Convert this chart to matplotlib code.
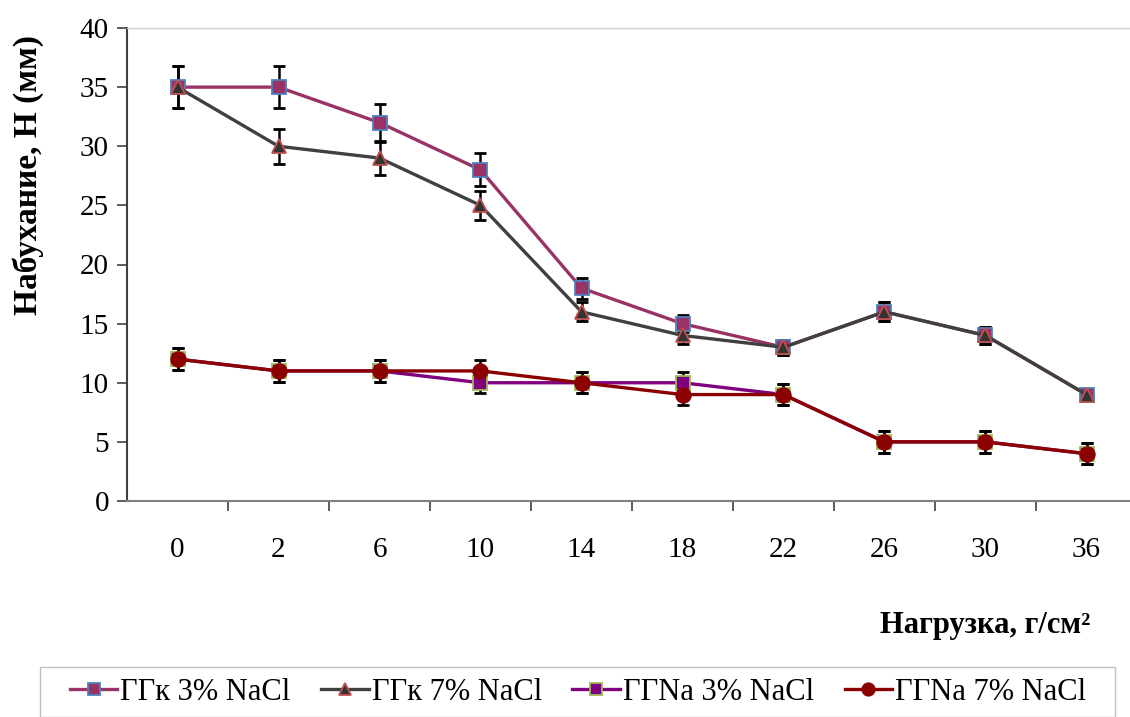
import matplotlib.pyplot as plt
from matplotlib.patches import Rectangle

plt.rcParams['font.family'] = ['Liberation Serif', 'DejaVu Serif']

loads = ['0', '2', '6', '10', '14', '18', '22', '26', '30', '36']

ggk_3 = [35, 35, 32, 28, 18, 15, 13, 16, 14, 9]
ggk_7 = [35, 30, 29, 25, 16, 14, 13, 16, 14, 9]
ggna_3 = [12, 11, 11, 10, 10, 10, 9, 5, 5, 4]
ggna_7 = [12, 11, 11, 11, 10, 9, 9, 5, 5, 4]

err_ggk_3 = [1.75, 1.75, 1.6, 1.4, 0.9, 0.75, 0.65, 0.8, 0.7, 0.45]
err_ggk_7 = [1.75, 1.5, 1.45, 1.25, 0.8, 0.7, 0.65, 0.8, 0.7, 0.45]
err_ggna_3 = [0.9, 0.9, 0.9, 0.9, 0.9, 0.9, 0.9, 0.9, 0.9, 0.9]
err_ggna_7 = [0.9, 0.9, 0.9, 0.9, 0.9, 0.9, 0.9, 0.9, 0.9, 0.9]

W, H = 1130, 717
fig = plt.figure(figsize=(W / 100, H / 100), dpi=100)
# plot area runs slightly past the right edge of the figure
ax = fig.add_axes([127 / W, 216 / H, 1010 / W, 473 / H])

x = list(range(len(loads)))

series = [
    (ggk_3, err_ggk_3, 'ГГк 3% NaCl', '#993366', 's', '#993366', '#4F81BD', 10.5),
    (ggk_7, err_ggk_7, 'ГГк 7% NaCl', '#404040', '^', '#333333', '#C0504D', 10.5),
    (ggna_3, err_ggna_3, 'ГГNa 3% NaCl', '#800080', 's', '#800080', '#9BBB59', 10.5),
    (ggna_7, err_ggna_7, 'ГГNa 7% NaCl', '#8B0000', 'o', '#8B0000', '#8B0000', 10.5),
]

handles = []
for vals, err, label, lc, mk, mfc, mec, ms in series:
    ax.errorbar(x, vals, yerr=err, fmt='none', ecolor='black',
                elinewidth=1.8, capsize=4.5, capthick=2, zorder=2)
    h, = ax.plot(x, vals, color=lc, lw=2.4, marker=mk, markersize=ms,
                 markerfacecolor=mfc, markeredgecolor=mec, markeredgewidth=1.3,
                 label=label, zorder=3)
    handles.append(h)

ax.set_xlim(-0.5, len(loads) - 0.5)
ax.set_ylim(0, 40)
ax.set_yticks(range(0, 41, 5))
ax.set_xticks(x)
ax.set_xticklabels(loads)
ax.set_xticks([i + 0.5 for i in range(len(loads))], minor=True)
ax.tick_params(axis='x', which='major', length=0, pad=26, labelsize=21)
ax.tick_params(axis='x', which='minor', length=7, width=1.2, color='#404040')
ax.tick_params(axis='y', length=7, width=1.2, color='#404040', pad=6, labelsize=21)

for side in ['left', 'bottom']:
    ax.spines[side].set_color('#808080')
    ax.spines[side].set_linewidth(1.5)
ax.spines['left'].set_color('#404040')
ax.spines['top'].set_color('#d0d0d0')
ax.spines['top'].set_linewidth(1)
ax.spines['right'].set_visible(False)

fig.text(28 / W, 1 - 175 / H, 'Набухание, Н (мм)', rotation=90, fontsize=24,
         fontweight='bold', ha='center', va='center')
fig.text(1090 / W, 1 - 625 / H, 'Нагрузка, г/см²', fontsize=22,
         fontweight='bold', ha='right', va='center')

fig.patches.append(Rectangle((40 / W, 0), 1075 / W, 50 / H, transform=fig.transFigure,
                             fill=False, edgecolor='#c0c0c0', lw=1))
fig.legend(handles=handles, loc='center', bbox_to_anchor=(578 / W, 1 - 692 / H),
           ncol=4, frameon=False, fontsize=22, handlelength=1.55,
           handletextpad=0.1, columnspacing=1.0, markerscale=0.85)

fig.savefig('out.png', dpi=100)
